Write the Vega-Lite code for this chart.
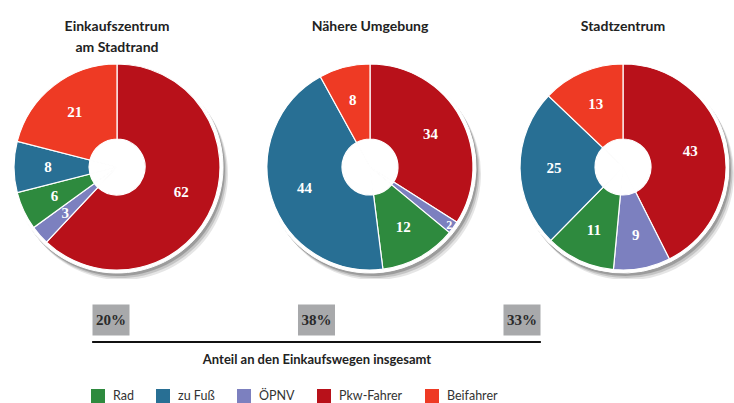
{
  "$schema": "https://vega.github.io/schema/vega-lite/v6.json",
  "background": "white",
  "padding": {"left": 6, "top": 20, "right": 0, "bottom": 0},
  "spacing": 25,
  "config": {"view": {"stroke": null}, "font": "Lato"},
  "vconcat": [
    {
      "data": {"values": [
        {"location": "Einkaufszentrum am Stadtrand", "mode": "Pkw-Fahrer", "value": 62},
        {"location": "Einkaufszentrum am Stadtrand", "mode": "ÖPNV", "value": 3},
        {"location": "Einkaufszentrum am Stadtrand", "mode": "Rad", "value": 6},
        {"location": "Einkaufszentrum am Stadtrand", "mode": "zu Fuß", "value": 8},
        {"location": "Einkaufszentrum am Stadtrand", "mode": "Beifahrer", "value": 21},
        {"location": "Nähere Umgebung", "mode": "Pkw-Fahrer", "value": 34},
        {"location": "Nähere Umgebung", "mode": "ÖPNV", "value": 2},
        {"location": "Nähere Umgebung", "mode": "Rad", "value": 12},
        {"location": "Nähere Umgebung", "mode": "zu Fuß", "value": 44},
        {"location": "Nähere Umgebung", "mode": "Beifahrer", "value": 8},
        {"location": "Stadtzentrum", "mode": "Pkw-Fahrer", "value": 43},
        {"location": "Stadtzentrum", "mode": "ÖPNV", "value": 9},
        {"location": "Stadtzentrum", "mode": "Rad", "value": 11},
        {"location": "Stadtzentrum", "mode": "zu Fuß", "value": 25},
        {"location": "Stadtzentrum", "mode": "Beifahrer", "value": 13}
      ]},
      "transform": [{"window": [{"op": "row_number", "as": "ord"}], "groupby": ["location"]}],
      "facet": {
        "column": {
          "field": "location", "type": "nominal", "title": null,
          "header": {
            "labelExpr": "(datum.value == 'Einkaufszentrum am Stadtrand') ? ['Einkaufszentrum', 'am Stadtrand'] : [datum.value, ' ']",
            "labelFont": "Lato", "labelFontSize": 14, "labelFontWeight": "bold", "labelColor": "#222",
            "labelBaseline": "top", "labelLineHeight": 21, "labelPadding": 0
          }
        }
      },
      "spacing": 31,
      "spec": {
        "width": 222,
        "height": 224,
        "encoding": {
          "theta": {"field": "value", "type": "quantitative", "stack": "normalize"},
          "order": {"field": "ord", "type": "quantitative"}
        },
        "layer": [
          {"mark": {"type": "arc", "radius": 106, "xOffset": 5, "yOffset": 7, "fill": "#000", "opacity": 0.1, "clip": true},
           "encoding": {"detail": {"field": "mode"}}},
          {"mark": {"type": "arc", "radius": 106, "xOffset": 3.5, "yOffset": 5, "fill": "#000", "opacity": 0.14, "clip": true},
           "encoding": {"detail": {"field": "mode"}}},
          {"mark": {"type": "arc", "radius": 106, "xOffset": 2, "yOffset": 3, "fill": "#000", "opacity": 0.2, "clip": true},
           "encoding": {"detail": {"field": "mode"}}},
          {"mark": {"type": "arc", "radius": 106, "fill": "white", "stroke": "white", "strokeWidth": 1, "clip": true},
           "encoding": {"detail": {"field": "mode"}}},
          {"mark": {"type": "arc", "radius": 103, "radius2": 28, "stroke": "white", "strokeWidth": 1.2},
           "encoding": {
             "color": {
               "field": "mode", "type": "nominal",
               "scale": {"domain": ["Rad", "zu Fuß", "ÖPNV", "Pkw-Fahrer", "Beifahrer"],
                         "range": ["#2e8a3e", "#286f94", "#7c80bf", "#b8111a", "#ee3a24"]},
               "legend": {
                 "orient": "none", "legendX": 85, "legendY": 334, "direction": "horizontal",
                 "title": null, "symbolType": "square", "symbolSize": 196, "symbolStrokeWidth": 0,
                 "labelFont": "Lato", "labelFontSize": 12.5, "labelColor": "#333", "labelOffset": 8,
                 "columnPadding": 22, "padding": 0
               }
             }
           }},
          {"mark": {"type": "text", "radius": {"expr": "datum.value < 3 ? 98 : 69"}, "font": "Liberation Serif", "fontWeight": "bold", "fill": "white"},
           "encoding": {
             "text": {"field": "value", "type": "quantitative"},
             "detail": {"field": "mode"},
             "size": {"condition": {"test": "datum.value < 3", "value": 12}, "value": 15}
           }}
        ]
      }
    },
    {
      "width": 621,
      "height": 22,
      "data": {"values": [
        {"location": "Einkaufszentrum am Stadtrand", "share": 0.20},
        {"location": "Nähere Umgebung", "share": 0.38},
        {"location": "Stadtzentrum", "share": 0.33}
      ]},
      "encoding": {
        "x": {"field": "location", "type": "nominal",
              "scale": {"type": "point", "padding": 0.511},
              "axis": {"title": "Anteil an den Einkaufswegen insgesamt", "labels": false, "ticks": false, "domain": false, "grid": false,
                       "titleFont": "Lato", "titleFontSize": 13, "titleFontWeight": "bold", "titleColor": "#222", "titlePadding": 11}},
        "y": {"datum": "box", "type": "nominal", "scale": {"type": "point", "domain": ["box", "rule"], "padding": 0}, "axis": null}
      },
      "layer": [
        {"mark": {"type": "point", "shape": "M-1.194,-1H1.194V1H-1.194Z", "size": 961, "filled": true, "color": "#a8a9ab", "opacity": 1}},
        {"mark": {"type": "text", "font": "Liberation Serif", "fontWeight": "bold", "fontSize": 15, "color": "#2a2a2a"},
         "encoding": {"text": {"field": "share", "type": "quantitative", "format": ".0%"}}},
        {"mark": {"type": "rule", "color": "#111", "strokeWidth": 2, "xOffset": -18.5, "x2Offset": 18.5},
         "encoding": {
           "x": {"datum": "Einkaufszentrum am Stadtrand", "type": "nominal"},
           "x2": {"datum": "Stadtzentrum"},
           "y": {"datum": "rule", "type": "nominal"}
         }}
      ]
    }
  ]
}
